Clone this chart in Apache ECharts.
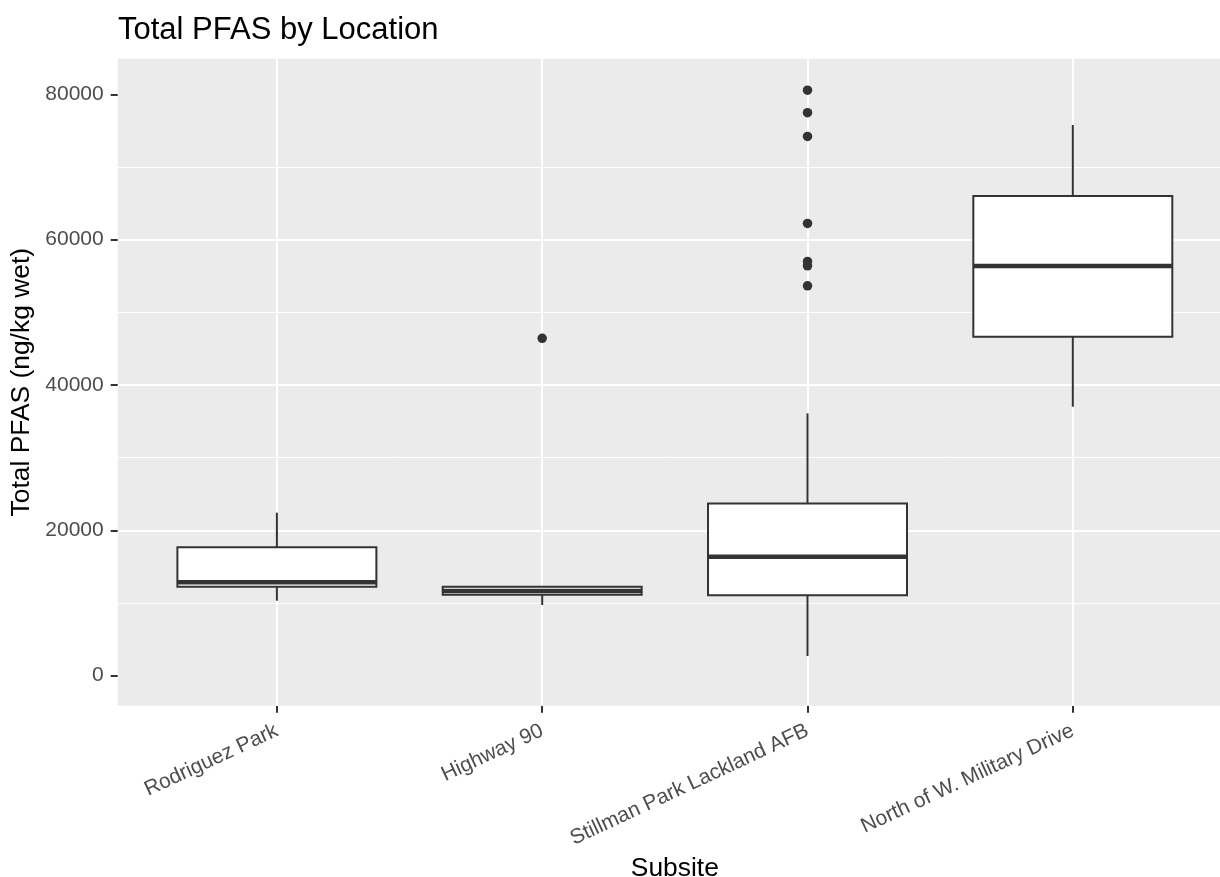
<!DOCTYPE html>
<html><head><meta charset="utf-8">
<script src="https://cdn.jsdelivr.net/npm/echarts@6/dist/echarts.min.js"></script>
<style>html,body{margin:0;padding:0;background:#fff}#c{width:1220px;height:877px}</style>
</head><body><div id="c"></div>
<script>
// ---- data ----
const categories = ['Rodriguez Park', 'Highway 90', 'Stillman Park Lackland AFB', 'North of W. Military Drive'];
const whiskerLow  = [10320,  9730,  2700, 37010];
const quartile1   = [12250, 11150, 11080, 46650];
const median      = [12850, 11650, 16350, 56380];
const quartile3   = [17670, 12250, 23690, 66010];
const whiskerHigh = [22430, 12300, 36090, 75780];
const outlierSite  = ['Highway 90', 'Stillman Park Lackland AFB', 'Stillman Park Lackland AFB', 'Stillman Park Lackland AFB',
                      'Stillman Park Lackland AFB', 'Stillman Park Lackland AFB', 'Stillman Park Lackland AFB', 'Stillman Park Lackland AFB'];
const outlierValue = [46430, 80570, 77470, 74210, 62230, 57000, 56400, 53650];
const yTicks = [0, 20000, 40000, 60000, 80000];
const yRange = [-4130, 84900];
const xExpand = 0.6;   // discrete-axis padding (in category units) on each side

const catIndex = categories.map((c, i) => i);
const boxData = categories.map((c, i) => [i, whiskerLow[i], quartile1[i], median[i], quartile3[i], whiskerHigh[i]]);
const outlierData = outlierSite.map((s, i) => [categories.indexOf(s), outlierValue[i]]);

const FONT = "'Liberation Sans', Arial, sans-serif";
const INK = '#333333';

function renderBox(params, api) {
  const idx = api.value(0);
  const lo = api.coord([idx, api.value(1)]);
  const b1 = api.coord([idx, api.value(2)]);
  const md = api.coord([idx, api.value(3)]);
  const b3 = api.coord([idx, api.value(4)]);
  const hi = api.coord([idx, api.value(5)]);
  const w = api.size([1, 0])[0] * 0.75;
  const x = md[0];
  return {
    type: 'group',
    children: [
      { type: 'line', shape: { x1: x, y1: b3[1], x2: x, y2: hi[1] }, style: { stroke: INK, lineWidth: 2 } },
      { type: 'line', shape: { x1: x, y1: lo[1], x2: x, y2: b1[1] }, style: { stroke: INK, lineWidth: 2 } },
      { type: 'rect', shape: { x: x - w / 2, y: b3[1], width: w, height: b1[1] - b3[1] }, style: { fill: '#ffffff', stroke: INK, lineWidth: 2 } },
      { type: 'line', shape: { x1: x - w / 2, y1: md[1], x2: x + w / 2, y2: md[1] }, style: { stroke: INK, lineWidth: 4.5 } }
    ]
  };
}

const chart = echarts.init(document.getElementById('c'), null, { renderer: 'canvas' });
chart.setOption({
  animation: false,
  backgroundColor: '#ffffff',
  textStyle: { fontFamily: FONT },
  title: {
    text: 'Total PFAS by Location',
    left: 118, top: 15, padding: 0,
    textStyle: { fontSize: 31, fontWeight: 'normal', color: '#000000', fontFamily: FONT }
  },
  grid: {
    left: 117.7, top: 58.7, width: 1114.3, height: 647,
    show: true, backgroundColor: '#EBEBEB', borderWidth: 0,
    containLabel: false, outerBoundsMode: 'none'
  },
  xAxis: {
    type: 'value', min: -xExpand, max: categories.length - 1 + xExpand,
    axisLine: { show: false, onZero: false },
    axisTick: { show: true, customValues: catIndex, length: 7, lineStyle: { color: INK, width: 2 } },
    axisLabel: {
      customValues: catIndex, rotate: 25, margin: 24, fontSize: 21, color: '#4D4D4D', fontFamily: FONT,
      formatter: v => categories[Math.round(v)]
    },
    splitLine: { show: false },
    name: 'Subsite', nameLocation: 'middle', nameGap: 147,
    nameTextStyle: { fontSize: 26.4, color: '#000000', fontFamily: FONT }
  },
  yAxis: {
    type: 'value', min: yRange[0], max: yRange[1],
    axisLine: { show: false, onZero: false },
    axisTick: { show: true, customValues: yTicks, length: 7, lineStyle: { color: INK, width: 2 } },
    axisLabel: { customValues: yTicks, margin: 14, fontSize: 21, color: '#4D4D4D', fontFamily: FONT, formatter: v => String(v) },
    splitLine: { show: true, showMinLine: false, showMaxLine: false, lineStyle: { color: '#ffffff', width: 2 } },
    minorTick: { show: false, splitNumber: 2 },
    minorSplitLine: { show: true, lineStyle: { color: '#ffffff', width: 1 } },
    name: 'Total PFAS (ng/kg wet)', nameLocation: 'middle', nameRotate: 90, nameGap: 76,
    nameTextStyle: { fontSize: 26.4, color: '#000000', fontFamily: FONT }
  },
  series: [
    {
      type: 'custom', z: 2,
      data: boxData, renderItem: renderBox,
      encode: { x: 0, y: [1, 2, 3, 4, 5] }, silent: true
    },
    {
      type: 'scatter', z: 3,
      data: outlierData, symbol: 'circle', symbolSize: 9.5,
      itemStyle: { color: INK, opacity: 1 }, silent: true,
      markLine: {
        silent: true, symbol: ['none', 'none'], z: 1, animation: false,
        label: { show: false },
        lineStyle: { color: '#ffffff', width: 2, type: 'solid', opacity: 1 },
        emphasis: { disabled: true },
        data: catIndex.map(i => ({ xAxis: i }))
      }
    }
  ]
});
</script>
</body></html>
